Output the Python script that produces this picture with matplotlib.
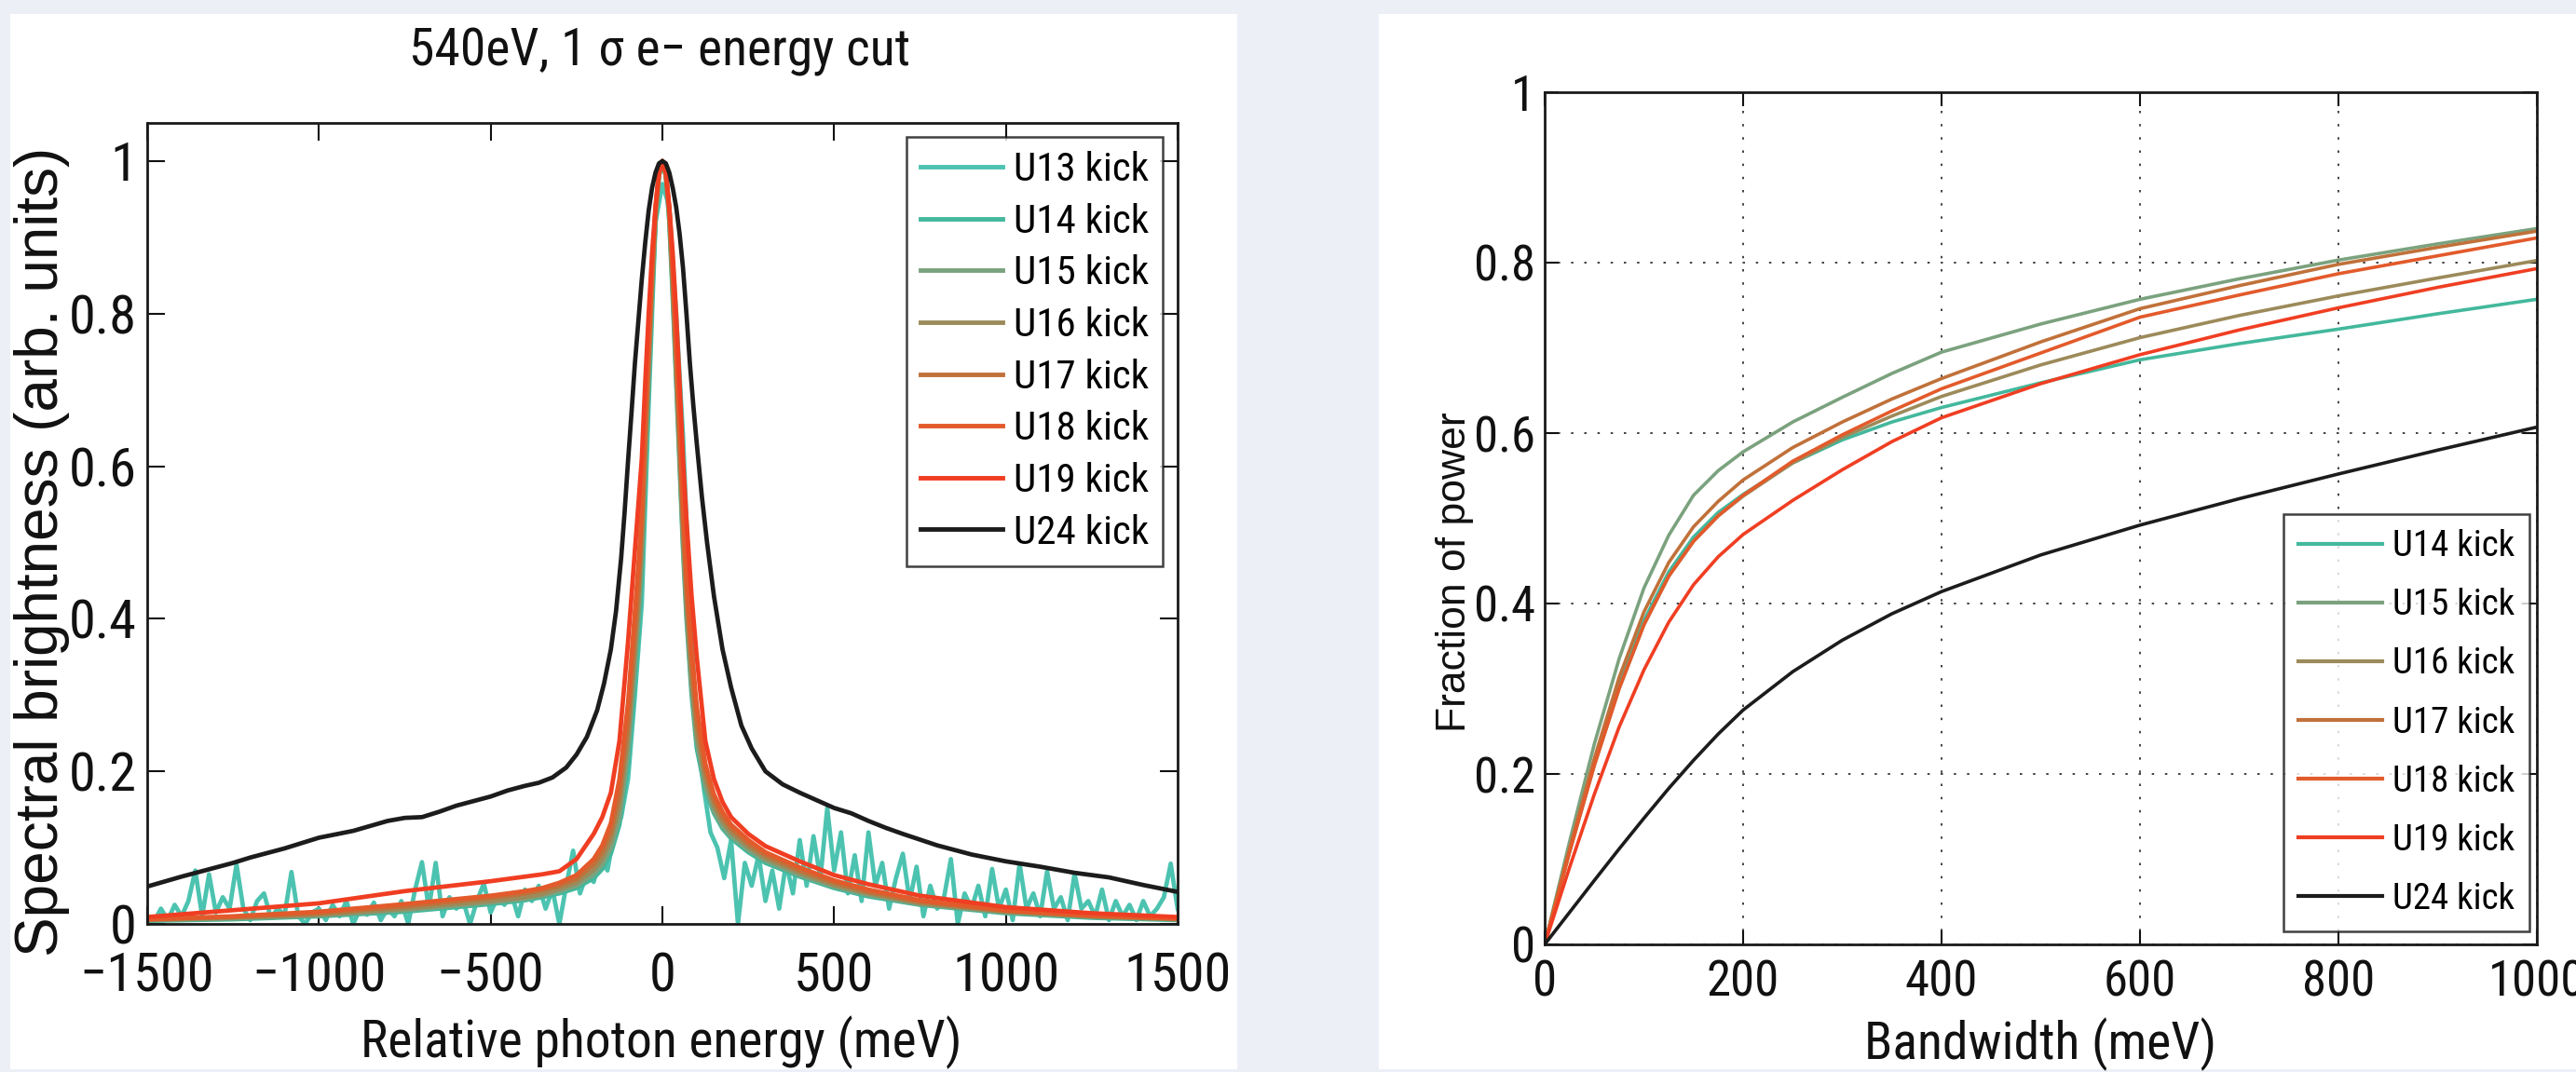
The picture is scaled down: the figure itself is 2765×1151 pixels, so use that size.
import os
import matplotlib
matplotlib.use("Agg")
import matplotlib.pyplot as plt
from matplotlib.patches import Rectangle
from matplotlib import font_manager
from matplotlib.font_manager import FontProperties

# ---------------- data: left panel (spectral brightness) ----------------
energy = [-1500, -1250, -1000, -750, -500, -400, -350, -300, -250, -200, -175, -150, -125,
          -100, -85, -70, -60, -50, -40, -30, -20, -10, 0, 10, 20, 30, 40, 50, 60, 70, 85,
          100, 125, 150, 175, 200, 250, 300, 400, 500, 600, 750, 1000, 1250, 1500]

u14_spec = [0.004, 0.006, 0.010, 0.016, 0.026, 0.031, 0.035, 0.040, 0.047, 0.060, 0.072, 0.092, 0.13,
            0.21, 0.29, 0.38, 0.46, 0.58, 0.70, 0.82, 0.92, 0.98, 1.0, 0.98, 0.92, 0.82, 0.71, 0.60, 0.49, 0.40, 0.30,
            0.23, 0.175, 0.145, 0.125, 0.112, 0.094, 0.080, 0.062, 0.047, 0.036, 0.025, 0.014, 0.008, 0.005]
u15_spec = [0.005, 0.007, 0.011, 0.018, 0.028, 0.033, 0.037, 0.043, 0.050, 0.065, 0.078, 0.10, 0.14,
            0.225, 0.31, 0.40, 0.48, 0.60, 0.72, 0.83, 0.925, 0.98, 1.0, 0.98, 0.925, 0.83, 0.72, 0.61, 0.50, 0.41, 0.31,
            0.24, 0.18, 0.148, 0.128, 0.115, 0.097, 0.083, 0.064, 0.049, 0.038, 0.026, 0.015, 0.009, 0.006]
u16_spec = [0.005, 0.008, 0.012, 0.020, 0.030, 0.035, 0.039, 0.046, 0.054, 0.071, 0.085, 0.11, 0.155,
            0.245, 0.33, 0.42, 0.50, 0.62, 0.73, 0.84, 0.93, 0.982, 1.0, 0.982, 0.93, 0.84, 0.73, 0.62, 0.51, 0.42, 0.32,
            0.25, 0.19, 0.155, 0.134, 0.12, 0.101, 0.086, 0.067, 0.051, 0.040, 0.027, 0.016, 0.010, 0.006]
u17_spec = [0.006, 0.009, 0.014, 0.023, 0.034, 0.040, 0.044, 0.050, 0.059, 0.078, 0.094, 0.12, 0.17,
            0.265, 0.35, 0.44, 0.52, 0.64, 0.745, 0.85, 0.935, 0.983, 1.0, 0.983, 0.935, 0.85, 0.745, 0.64, 0.53, 0.44, 0.34,
            0.265, 0.20, 0.162, 0.14, 0.125, 0.105, 0.09, 0.070, 0.054, 0.042, 0.029, 0.017, 0.010, 0.007]
u18_spec = [0.006, 0.010, 0.016, 0.026, 0.037, 0.043, 0.047, 0.054, 0.064, 0.085, 0.103, 0.132, 0.19,
            0.29, 0.38, 0.47, 0.545, 0.66, 0.76, 0.86, 0.94, 0.985, 1.0, 0.985, 0.94, 0.86, 0.76, 0.66, 0.55, 0.46, 0.36,
            0.285, 0.21, 0.17, 0.147, 0.13, 0.11, 0.094, 0.074, 0.057, 0.045, 0.031, 0.018, 0.011, 0.007]
u19_spec = [0.009, 0.018, 0.027, 0.043, 0.056, 0.062, 0.065, 0.069, 0.085, 0.118, 0.14, 0.172, 0.24,
            0.37, 0.46, 0.55, 0.61, 0.71, 0.80, 0.88, 0.94, 0.985, 1.0, 0.985, 0.94, 0.88, 0.80, 0.71, 0.61, 0.53, 0.43,
            0.35, 0.24, 0.19, 0.16, 0.14, 0.118, 0.102, 0.082, 0.064, 0.052, 0.037, 0.022, 0.014, 0.009]

u24_energy = [-1500, -1400, -1300, -1250, -1200, -1100, -1000, -900, -800, -750, -700, -650, -600,
              -500, -450, -400, -360, -320, -280, -250, -220, -190, -170, -150, -135, -120, -110,
              -100, -90, -80, -70, -60, -50, -40, -30, -20, -10, 0, 10, 20, 30, 40, 50, 60, 70, 80,
              90, 100, 115, 130, 150, 175, 200, 230, 260, 300, 350, 400, 450, 500, 550, 600, 650,
              700, 800, 900, 1000, 1100, 1200, 1300, 1400, 1500]
u24_spec = [0.049, 0.062, 0.074, 0.080, 0.087, 0.099, 0.113, 0.122, 0.135, 0.139, 0.140, 0.147, 0.155,
            0.167, 0.175, 0.181, 0.185, 0.192, 0.205, 0.222, 0.245, 0.28, 0.315, 0.36, 0.41, 0.48, 0.54,
            0.607, 0.67, 0.735, 0.79, 0.845, 0.893, 0.935, 0.965, 0.985, 0.997, 1.0, 0.997, 0.985, 0.965, 0.94, 0.905, 0.86, 0.80, 0.735,
            0.68, 0.63, 0.56, 0.50, 0.43, 0.36, 0.31, 0.26, 0.23, 0.20, 0.183, 0.172, 0.162, 0.152, 0.145, 0.135, 0.126,
            0.118, 0.103, 0.091, 0.082, 0.075, 0.067, 0.061, 0.051, 0.042]

# U13: noisy measurement, sampled every 20 meV from -1500 to 1500
u13_energy = list(range(-1500, 1501, 20))
u13_spec = [0.01, 0.003, 0.02, 0.005, 0.025, 0.01, 0.03, 0.07, 0.01, 0.065,
            0.015, 0.035, 0.02, 0.078, 0.02, 0.005, 0.03, 0.04, 0.008, 0.02,
            0.012, 0.068, 0.01, 0.0, 0.015, 0.02, 0.005, 0.025, 0.01, 0.03,
            0.0, 0.02, 0.012, 0.028, 0.005, 0.02, 0.01, 0.03, 0.0, 0.045,
            0.081, 0.02, 0.08, 0.01, 0.035, 0.02, 0.03, 0.0, 0.03, 0.053,
            0.015, 0.035, 0.025, 0.04, 0.01, 0.045, 0.03, 0.05, 0.02, 0.045,
            0.0, 0.05, 0.096, 0.04, 0.065, 0.055, 0.09, 0.07, 0.12, 0.14,
            0.19, 0.30, 0.42, 0.68, 0.92, 0.97, 0.94, 0.80, 0.64, 0.42,
            0.25, 0.18, 0.12, 0.10, 0.06, 0.11, 0.0, 0.08, 0.05, 0.09,
            0.03, 0.07, 0.02, 0.08, 0.04, 0.11, 0.05, 0.115, 0.06, 0.152,
            0.07, 0.12, 0.04, 0.09, 0.03, 0.12, 0.05, 0.08, 0.02, 0.06,
            0.092, 0.03, 0.075, 0.01, 0.05, 0.02, 0.035, 0.085, 0.0, 0.04,
            0.02, 0.05, 0.01, 0.072, 0.02, 0.045, 0.005, 0.079, 0.02, 0.04,
            0.01, 0.069, 0.02, 0.035, 0.005, 0.066, 0.02, 0.03, 0.01, 0.045,
            0.005, 0.03, 0.01, 0.025, 0.005, 0.03, 0.01, 0.02, 0.035, 0.079,
            0.02]

# ---------------- data: right panel (fraction of power) ----------------
bandwidth = [0, 25, 50, 75, 100, 125, 150, 175, 200, 250, 300, 350, 400, 500, 600, 700, 800, 900, 1000]
u14_frac = [0, 0.110, 0.213, 0.305, 0.380, 0.437, 0.478, 0.507, 0.528, 0.565, 0.592, 0.613, 0.630, 0.659, 0.686, 0.705, 0.722, 0.740, 0.757]
u15_frac = [0, 0.120, 0.235, 0.335, 0.418, 0.480, 0.527, 0.556, 0.578, 0.613, 0.642, 0.670, 0.695, 0.728, 0.757, 0.781, 0.803, 0.822, 0.840]
u16_frac = [0, 0.108, 0.210, 0.300, 0.375, 0.432, 0.473, 0.503, 0.526, 0.565, 0.595, 0.620, 0.643, 0.680, 0.712, 0.738, 0.761, 0.782, 0.8025]
u17_frac = [0, 0.112, 0.218, 0.313, 0.390, 0.448, 0.490, 0.520, 0.545, 0.583, 0.613, 0.640, 0.664, 0.707, 0.746, 0.773, 0.798, 0.818, 0.837]
u18_frac = [0, 0.108, 0.210, 0.300, 0.375, 0.432, 0.473, 0.503, 0.527, 0.567, 0.598, 0.626, 0.652, 0.694, 0.736, 0.762, 0.787, 0.808, 0.829]
u19_frac = [0, 0.090, 0.176, 0.255, 0.322, 0.378, 0.422, 0.455, 0.481, 0.521, 0.557, 0.590, 0.618, 0.658, 0.692, 0.721, 0.747, 0.771, 0.793]
u24_frac = [0, 0.0375, 0.075, 0.112, 0.148, 0.183, 0.216, 0.247, 0.275, 0.320, 0.357, 0.388, 0.414, 0.457, 0.492, 0.523, 0.552, 0.580, 0.607]

left_labels = ["U13 kick", "U14 kick", "U15 kick", "U16 kick", "U17 kick", "U18 kick", "U19 kick", "U24 kick"]
right_labels = ["U14 kick", "U15 kick", "U16 kick", "U17 kick", "U18 kick", "U19 kick", "U24 kick"]
colors = {"U13": "#4cc3b0", "U14": "#43b89c", "U15": "#7ba27e", "U16": "#9c8a5a",
          "U17": "#c0713a", "U18": "#e35a2b", "U19": "#f03e22", "U24": "#1c1c1c"}

spec_x_ticks = [-1500, -1000, -500, 0, 500, 1000, 1500]
spec_y_ticks = [0, 0.2, 0.4, 0.6, 0.8, 1]
y_ticklabels = ["0", "0.2", "0.4", "0.6", "0.8", "1"]
frac_x_ticks = [0, 200, 400, 600, 800, 1000]
frac_y_ticks = [0, 0.2, 0.4, 0.6, 0.8, 1]

# ---------------- fonts: prefer a narrow sans if one is installed ----------------
narrow_file = None
best = 99
bad = ("bold", "italic", "light", "medium", "black", "thin", "semi", "extra", "oblique", "ultra")
for f in font_manager.fontManager.ttflist:
    fn = os.path.basename(f.fname).lower()
    if any(b in fn for b in bad):
        continue
    rank = None
    if "liberation" in fn and "narrow" in fn:
        rank = 0
    elif "condensed" in fn and ("notosans-" in fn or "roboto" in fn or "opensans" in fn):
        rank = 1
    if rank is not None and rank < best:
        best, narrow_file = rank, f.fname

REG = ["Liberation Sans", "DejaVu Sans"]
plt.rcParams["font.family"] = REG

if narrow_file:
    def NF(size):
        return FontProperties(fname=narrow_file, size=size)
    S = dict(title=40, lt=42, lx=40, lleg=31, rt=38, rx=40, rleg=28)
else:
    def NF(size):
        return FontProperties(family=REG, size=size)
    S = dict(title=34, lt=38, lx=34, lleg=29, rt=35, rx=35, rleg=26)

W, H = 2765, 1151
fig = plt.figure(figsize=(W / 100, H / 100), dpi=100)
fig.patch.set_facecolor("#eceff5")
fig.add_artist(Rectangle((11 / W, 1 - 1148 / H), (1328 - 11) / W, (1148 - 15) / H,
                         transform=fig.transFigure, facecolor="white", edgecolor="none", zorder=0))
fig.add_artist(Rectangle((1480 / W, 1 - 1148 / H), (W - 1480) / W, (1148 - 15) / H,
                         transform=fig.transFigure, facecolor="white", edgecolor="none", zorder=0))

ax1 = fig.add_axes([158 / W, 1 - 992 / H, 1106 / W, 860 / H])
ax2 = fig.add_axes([1658 / W, 1 - 1014 / H, 1065 / W, 915 / H])

# ---------------- left panel ----------------
series_left = [
    (u13_energy, u13_spec, "U13"), (energy, u14_spec, "U14"), (energy, u15_spec, "U15"),
    (energy, u16_spec, "U16"), (energy, u17_spec, "U17"), (energy, u18_spec, "U18"),
    (energy, u19_spec, "U19"), (u24_energy, u24_spec, "U24"),
]
for (xs, ys, key), lab in zip(series_left, left_labels):
    ax1.plot(xs, ys, color=colors[key], lw=3.4, label=lab, solid_joinstyle="round")
ax1.set_xlim(-1500, 1500)
ax1.set_ylim(0, 1.05)
ax1.set_xticks(spec_x_ticks)
ax1.set_yticks(spec_y_ticks)
ax1.set_yticklabels(y_ticklabels)
ax1.tick_params(direction="in", top=True, right=True, length=14, width=1.5, colors="#111111")
ax1.tick_params(axis="x", pad=21)
ax1.tick_params(axis="y", pad=8)
for lbl in ax1.get_xticklabels() + ax1.get_yticklabels():
    lbl.set_fontproperties(NF(S["lt"]))
for s in ax1.spines.values():
    s.set_linewidth(2.0)
    s.set_color("#1a1a1a")

leg1 = ax1.legend(loc="upper left", bbox_to_anchor=(973 / W, 1 - 147 / H), bbox_transform=fig.transFigure,
                  borderaxespad=0, frameon=True, fancybox=False, edgecolor="#111111", prop=NF(S["lleg"]),
                  handlelength=2.05, handletextpad=0.27, labelspacing=0.34, borderpad=0.35)
leg1.get_frame().set_linewidth(1.8)
for l in leg1.get_lines():
    l.set_linewidth(3.5)

fig.text(708 / W, 1 - 55 / H, "540eV, 1 \u03c3 e\u2212 energy cut", ha="center", va="center",
         fontproperties=NF(S["title"]), color="#111111")
fig.text(710 / W, 1 - 1135 / H, "Relative photon energy (meV)", ha="center", va="baseline",
         fontproperties=NF(S["lx"]), color="#111111")
fig.text(45 / W, 1 - 592 / H, "Spectral brightness (arb. units)", fontsize=46, rotation=90,
         ha="center", va="center", family=REG, color="#111111")

# ---------------- right panel ----------------
series_right = [(u14_frac, "U14"), (u15_frac, "U15"), (u16_frac, "U16"), (u17_frac, "U17"),
                (u18_frac, "U18"), (u19_frac, "U19"), (u24_frac, "U24")]
for (ys, key), lab in zip(series_right, right_labels):
    ax2.plot(bandwidth, ys, color=colors[key], lw=2.6, label=lab, solid_joinstyle="round")
ax2.set_xlim(0, 1000)
ax2.set_ylim(0, 1)
ax2.set_xticks(frac_x_ticks)
ax2.set_yticks(frac_y_ticks)
ax2.set_yticklabels(y_ticklabels)
ax2.grid(True, linestyle=(0, (1.5, 7)), color="#222222", linewidth=1.2)
ax2.tick_params(direction="in", top=True, right=True, length=11, width=1.5, colors="#111111")
ax2.tick_params(axis="x", pad=11)
ax2.tick_params(axis="y", pad=7)
for lbl in ax2.get_xticklabels() + ax2.get_yticklabels():
    lbl.set_fontproperties(NF(S["rt"]))
for s in ax2.spines.values():
    s.set_linewidth(2.0)
    s.set_color("#1a1a1a")

leg2 = ax2.legend(loc="upper left", bbox_to_anchor=(2451 / W, 1 - 552 / H), bbox_transform=fig.transFigure,
                  borderaxespad=0, frameon=True, fancybox=False, edgecolor="#111111", prop=NF(S["rleg"]),
                  handlelength=2.3, handletextpad=0.28, labelspacing=0.67, borderpad=0.42)
leg2.get_frame().set_linewidth(1.8)
for l in leg2.get_lines():
    l.set_linewidth(3.0)

fig.text(2190 / W, 1 - 1137 / H, "Bandwidth (meV)", ha="center", va="baseline",
         fontproperties=NF(S["rx"]), color="#111111")
fig.text(1562 / W, 1 - 614 / H, "Fraction of power", fontsize=32, rotation=90,
         ha="center", va="center", family=REG, color="#111111")

assert len(u13_energy) == len(u13_spec), (len(u13_energy), len(u13_spec))
fig.savefig("out.png", dpi=100, facecolor=fig.get_facecolor())
